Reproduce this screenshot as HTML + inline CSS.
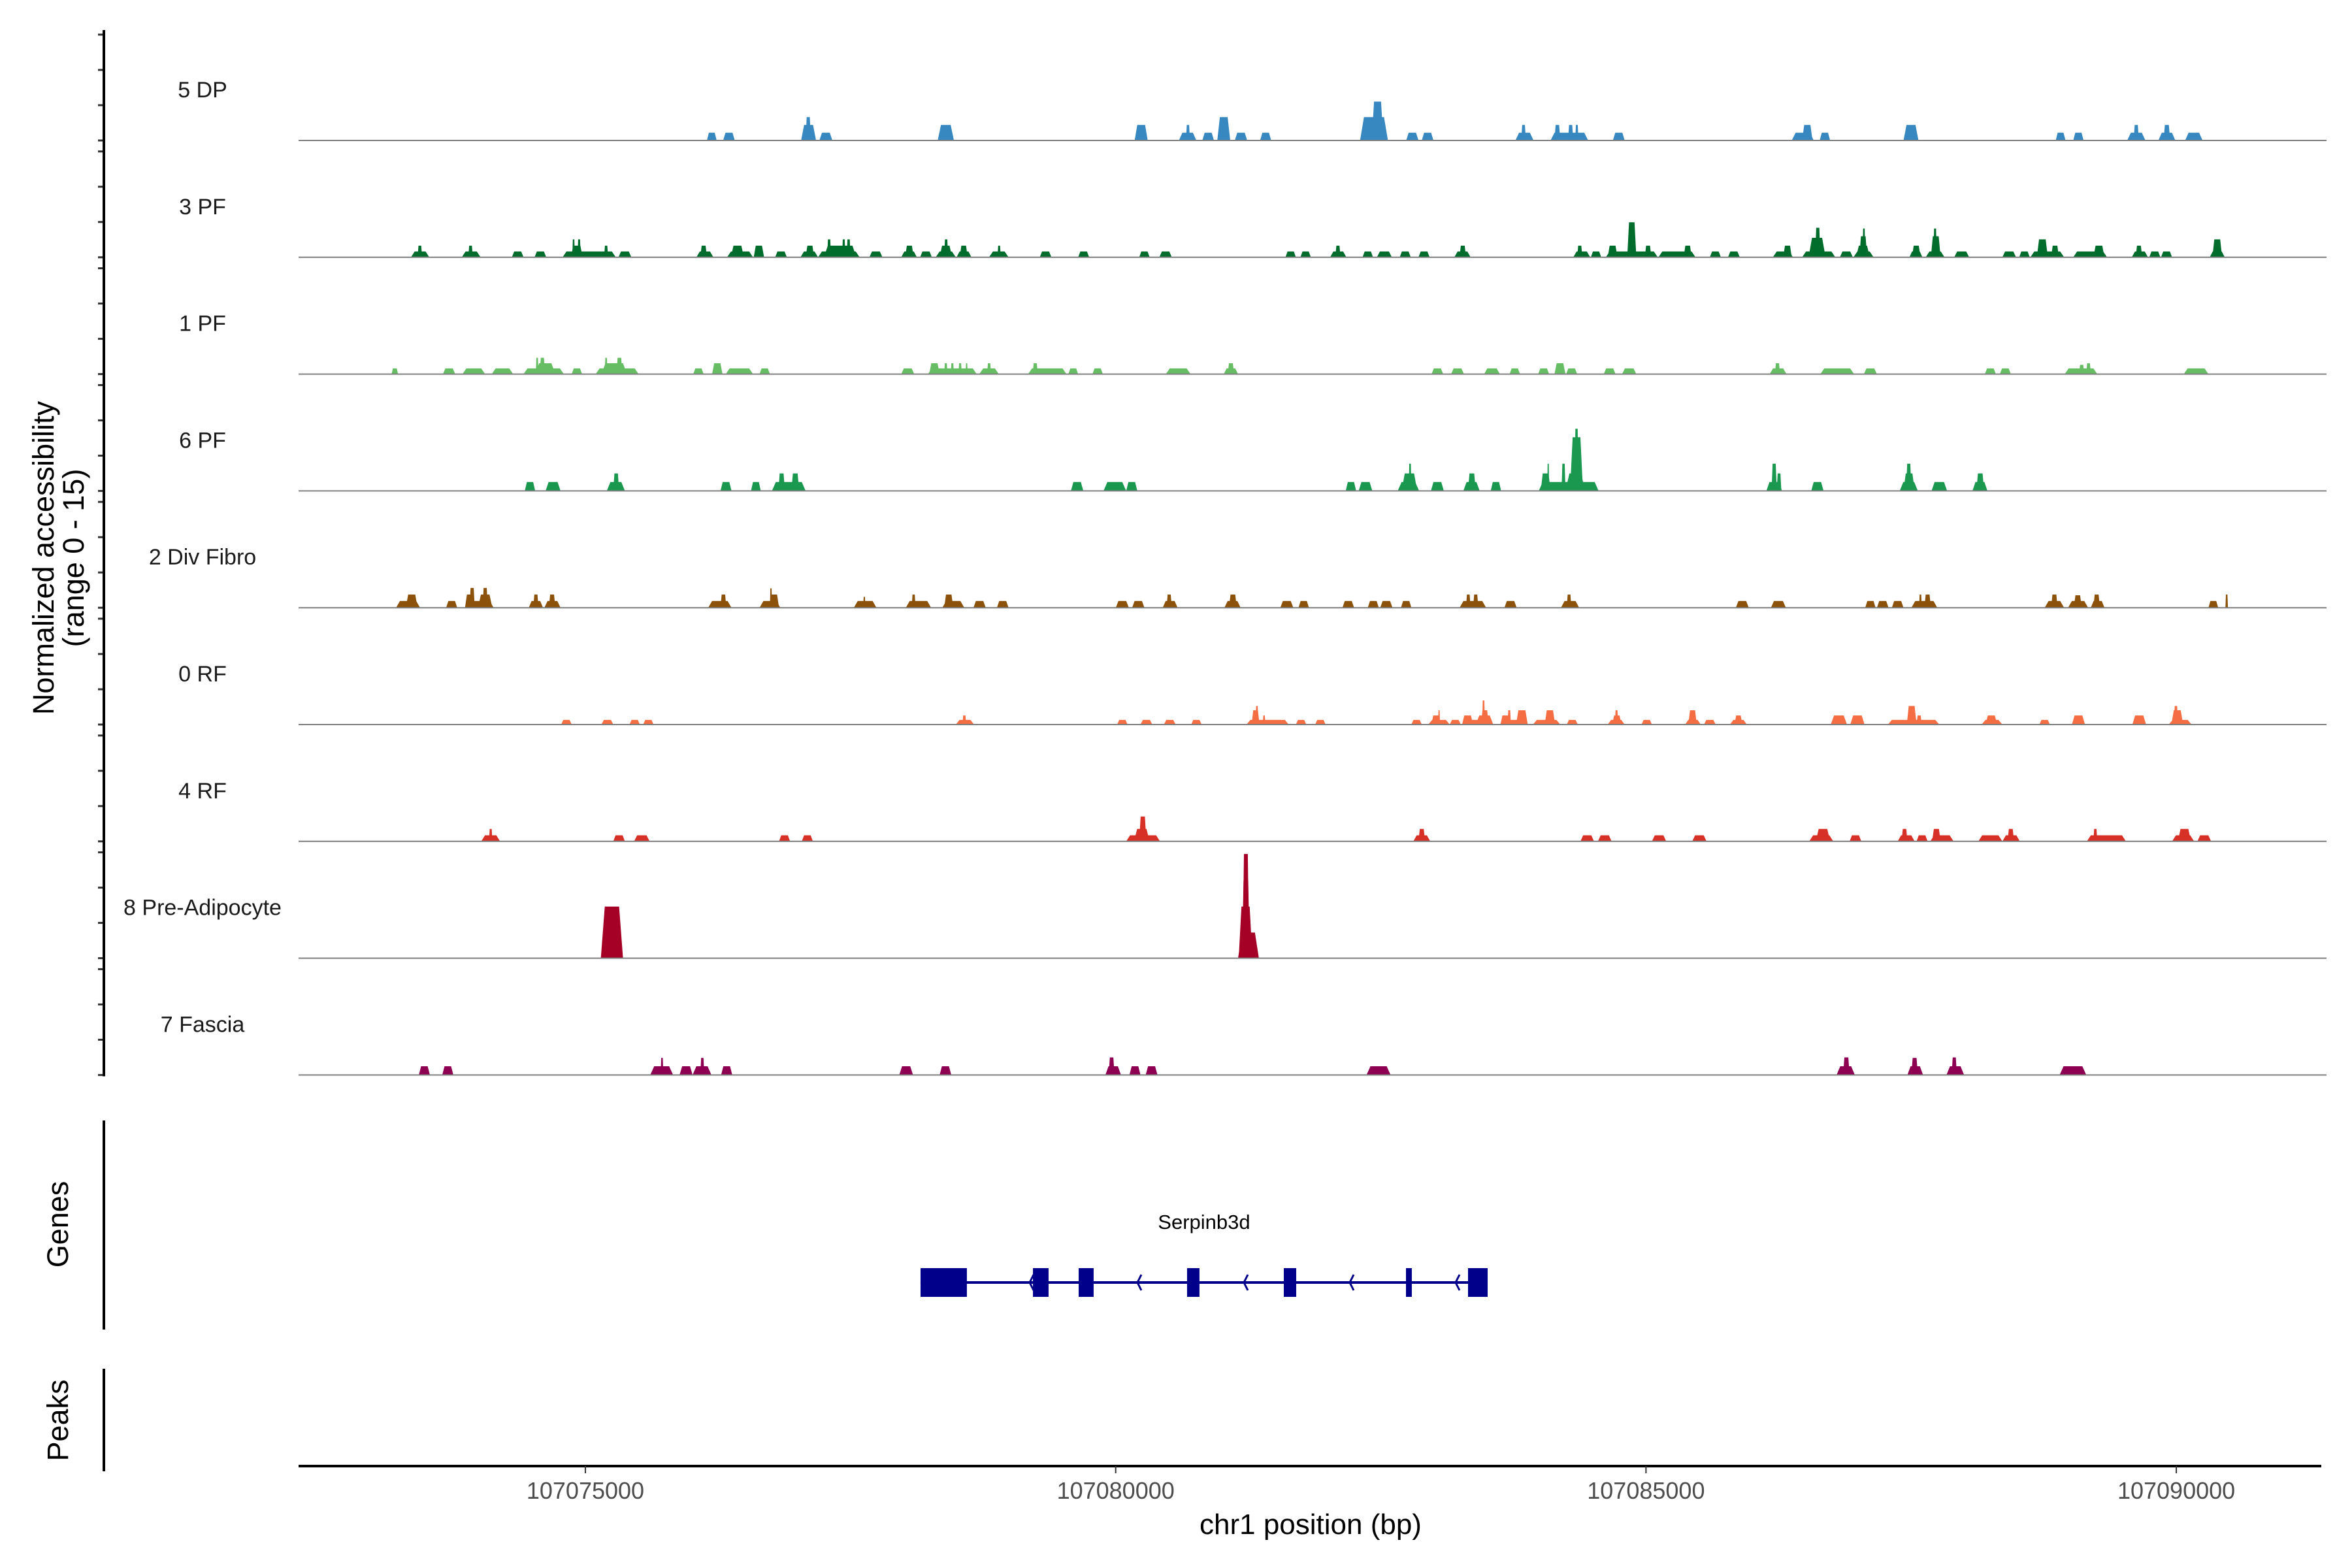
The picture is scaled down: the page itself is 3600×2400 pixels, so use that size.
<!DOCTYPE html>
<html><head><meta charset="utf-8">
<style>
html,body{margin:0;padding:0;background:#fff;}
svg{display:block;font-family:"Liberation Sans",Arial,sans-serif;}
</style></head>
<body>
<svg id="chart" width="3600" height="2400" viewBox="0 0 3600 2400" xmlns="http://www.w3.org/2000/svg">
<rect x="0" y="0" width="3600" height="2400" fill="#fff"/>
<g id="tracks"></g>
<g id="yaxis"></g>
<text transform="translate(82,854) rotate(-90)" text-anchor="middle" font-size="45" fill="#000">Normalized accessibility</text>
<text transform="translate(128,854) rotate(-90)" text-anchor="middle" font-size="45" fill="#000">(range 0 - 15)</text>
<line x1="159" y1="1715" x2="159" y2="2035" stroke="#000" stroke-width="4"/>
<text transform="translate(104,1874) rotate(-90)" text-anchor="middle" font-size="45" fill="#000">Genes</text>
<line x1="159" y1="2095" x2="159" y2="2252" stroke="#000" stroke-width="4"/>
<text transform="translate(104,2174) rotate(-90)" text-anchor="middle" font-size="45" fill="#000">Peaks</text>
<g id="gene"></g>
<g id="xaxis"></g>
<text x="2006" y="2348" text-anchor="middle" font-size="44" fill="#000">chr1 position (bp)</text>
</svg>
<script>
const windowStart = 107072000;
const domainStart = 107072296;
const domainEnd = 107091367;
const xTickValues = [107075000, 107080000, 107085000, 107090000];
const trackNames = ["5 DP","3 PF","1 PF","6 PF","2 Div Fibro","0 RF","4 RF","8 Pre-Adipocyte","7 Fascia"];
const trackColors = ["#3787c0","#006d2c","#66bd63","#1a9850","#8c510a","#f46d43","#d73027","#a50026","#8e0152"];
// peaks: [start offset, end offset, accessibility]
const peaksDP = [[4146,4238,1],[4299,4409,1],[5034,5175,2],[5077,5126,3],[5206,5329,1],[6322,6475,2],[8179,8302,2],[8596,8761,1],[8663,8700,2],[8817,8927,1],[8958,9080,3],[9123,9240,1],[9362,9466,1],[10304,10567,3],[10414,10524,5],[10739,10855,1],[10886,10996,1],[11769,11940,1],[11824,11867,2],[12100,12455,1],[12137,12192,2],[12265,12314,2],[12333,12363,2],[12688,12799,1],[14374,14582,1],[14472,14570,2],[14638,14736,1],[15428,15569,2],[16863,16955,1],[17028,17126,1],[17537,17709,1],[17598,17647,2],[17831,17991,1],[17880,17942,2],[18083,18248,1]];
const peaksPF3 = [[1356,1528,0.75],[1418,1461,1.5],[1835,2012,0.75],[1896,1939,1.5],[2307,2417,0.75],[2521,2631,0.75],[2785,3287,0.75],[2864,2975,1.5],[2877,2901,2.3],[2926,2956,2.3],[3177,3214,1.5],[3312,3434,0.75],[4047,4207,0.75],[4084,4146,1.5],[4336,4581,0.75],[4372,4495,1.5],[4587,4685,1.5],[4789,4900,0.75],[5028,5194,0.75],[5077,5157,1.5],[5194,5586,0.75],[5249,5555,1.5],[5280,5316,2.3],[5421,5451,2.3],[5464,5500,2.3],[5678,5801,0.75],[5978,6126,0.75],[6015,6095,1.5],[6156,6267,0.75],[6303,6493,0.75],[6340,6457,1.5],[6383,6420,2.3],[6500,6640,0.75],[6530,6604,1.5],[6806,6990,0.75],[6886,6916,1.5],[7284,7394,0.75],[7646,7750,0.75],[8222,8320,0.75],[8412,8529,0.75],[9601,9699,0.75],[9742,9840,0.75],[10022,10175,0.75],[10071,10120,1.5],[10328,10426,0.75],[10463,10604,0.75],[10678,10782,0.75],[10855,10960,0.75],[11193,11346,0.75],[11242,11303,1.5],[12314,12474,0.75],[12351,12400,1.5],[12480,12578,0.75],[12621,13111,0.75],[12639,12731,1.5],[12823,12909,4.5],[12989,13050,1.5],[13117,13467,0.75],[13356,13430,1.5],[13602,13706,0.75],[13773,13884,0.75],[14196,14386,0.75],[14294,14374,1.5],[14472,14785,0.75],[14533,14693,2.5],[14595,14644,3.8],[14828,14950,0.75],[14956,15146,0.75],[14981,15110,1.5],[15012,15085,2.7],[15042,15067,3.7],[15484,15606,0.75],[15508,15588,1.5],[15637,15815,0.75],[15686,15778,2.7],[15710,15741,3.7],[15906,16047,0.75],[16360,16489,0.75],[16519,16618,0.75],[16624,16942,0.75],[16685,16789,2.3],[16820,16893,1.5],[17028,17347,0.75],[17218,17323,1.5],[17580,17733,0.75],[17617,17678,1.5],[17745,17850,0.75],[17856,17960,0.75],[18315,18457,0.75],[18340,18432,2.3]];
const peaksPF1 = [[1173,1234,0.73],[1657,1773,0.73],[1841,2055,0.73],[2117,2319,0.73],[2417,2797,0.73],[2527,2717,1.4],[2533,2558,2.1],[2570,2619,2.1],[2871,2969,0.73],[3097,3502,0.73],[3152,3392,1.4],[3183,3208,2.1],[3293,3349,2.1],[4017,4115,0.73],[4195,4293,1.4],[4323,4581,0.73],[4642,4740,0.73],[5978,6101,0.73],[6230,6690,0.73],[6242,6340,1.4],[6383,6414,1.4],[6445,6475,1.4],[6518,6549,1.4],[6585,6604,1.4],[6714,6898,0.73],[6788,6825,1.4],[7174,7536,0.73],[7217,7266,1.4],[7554,7646,0.73],[7781,7879,0.73],[8473,8706,0.73],[9019,9154,0.73],[9056,9117,1.4],[10978,11088,0.73],[11162,11284,0.73],[11474,11622,0.73],[11714,11812,0.73],[11983,12087,0.73],[12137,12241,1.4],[12247,12351,0.73],[12602,12713,0.73],[12774,12909,0.73],[14166,14325,0.73],[14215,14264,1.4],[14644,14962,0.73],[15054,15177,0.73],[16195,16299,0.73],[16336,16440,0.73],[16948,17255,0.73],[17083,17132,1.2],[17151,17194,1.4],[18070,18303,0.73]];
const peaksPF6 = [[2429,2527,1.15],[2625,2766,1.15],[3202,3373,1.15],[3263,3318,2.25],[4274,4378,1.15],[4562,4654,1.15],[4759,5077,1.15],[4820,4881,2.25],[4942,5016,2.25],[7578,7695,1.15],[7885,8099,1.15],[8099,8204,1.15],[10169,10267,1.15],[10291,10420,1.15],[10659,10861,1.15],[10696,10843,2.25],[10763,10788,3.5],[10972,11094,1.15],[11278,11432,1.15],[11321,11395,2.25],[11536,11634,1.15],[11989,12553,1.15],[12008,12100,2.25],[12069,12087,3.5],[12204,12241,3.5],[12241,12425,2.25],[12284,12406,6.9],[12327,12363,8],[14135,14282,1.15],[14184,14233,3.5],[14233,14276,2.25],[14558,14674,1.15],[15392,15563,1.15],[15428,15533,2.25],[15453,15502,3.5],[15692,15839,1.15],[16078,16219,1.15],[16115,16188,2.25]];
const peaksDivFibro = [[1215,1442,0.87],[1307,1418,1.7],[1687,1792,0.87],[1865,2135,0.87],[1865,1957,1.7],[1908,1957,2.55],[1988,2123,1.7],[2031,2080,2.55],[2466,2601,0.87],[2509,2558,1.7],[2613,2766,0.87],[2656,2717,1.7],[4158,4378,0.87],[4274,4329,1.7],[4642,4838,0.87],[4734,4826,1.7],[4740,4760,2.5],[5531,5745,0.87],[5620,5640,1.4],[6021,6260,0.87],[6077,6113,1.7],[6365,6573,0.87],[6383,6469,1.7],[6659,6775,0.87],[6880,6990,0.87],[8001,8124,0.87],[8155,8271,0.87],[8443,8584,0.87],[8480,8529,1.7],[9025,9178,0.87],[9068,9142,1.7],[9552,9675,0.87],[9724,9822,0.87],[10138,10248,0.87],[10377,10481,0.87],[10494,10610,0.87],[10690,10788,0.87],[11242,11493,0.87],[11303,11346,1.7],[11370,11419,1.7],[11665,11781,0.87],[12198,12370,0.87],[12253,12296,1.7],[13847,13969,0.87],[14178,14319,0.87],[15067,15165,0.87],[15177,15287,0.87],[15318,15428,0.87],[15502,15747,0.87],[15575,15600,1.7],[15625,15686,1.7],[16759,16942,0.87],[16820,16881,1.7],[16979,17169,0.87],[17034,17108,1.6],[17194,17323,0.87],[17218,17280,1.7],[18303,18395,0.87],[18463,18487,1.7]];
const peaksRF0 = [[2772,2871,0.6],[3152,3263,0.6],[3416,3514,0.6],[3545,3643,0.6],[6493,6665,0.6],[6555,6591,1.17],[8014,8112,0.6],[8234,8345,0.6],[8455,8565,0.6],[8712,8810,0.6],[9233,9632,0.6],[9282,9356,1.84],[9319,9344,2.4],[9387,9411,1.17],[9699,9797,0.6],[9881,9979,0.6],[10788,10886,0.6],[10947,11150,0.6],[10978,11058,1.17],[11040,11058,1.84],[11150,11254,0.6],[11266,11560,0.6],[11266,11370,1.17],[11395,11560,1.17],[11444,11517,1.84],[11456,11481,3.1],[11628,11885,0.6],[11628,11720,1.17],[11695,11726,1.84],[11775,11885,1.84],[11934,12192,0.6],[12045,12143,1.84],[12253,12357,0.6],[12639,12799,0.6],[12682,12768,1.17],[12707,12737,1.84],[12958,13056,0.6],[13369,13516,0.6],[13399,13479,1.84],[13547,13657,0.6],[13792,13951,0.6],[13835,13908,1.17],[14742,14895,1.17],[14926,15061,1.17],[15281,15765,0.6],[15459,15551,2.4],[15551,15600,1.17],[16164,16360,0.6],[16201,16311,1.17],[16709,16808,0.6],[17016,17139,1.17],[17586,17715,1.17],[17929,18144,0.6],[17954,18064,1.84],[17978,18015,2.4]];
const peaksRF4 = [[2018,2196,0.78],[2092,2123,1.6],[3263,3373,0.78],[3459,3606,0.78],[4826,4930,0.78],[5041,5145,0.78],[8099,8418,0.78],[8173,8320,1.6],[8222,8289,3.2],[10806,10966,0.78],[10855,10917,1.6],[12382,12510,0.78],[12547,12676,0.78],[13056,13191,0.78],[13436,13571,0.78],[14539,14766,0.78],[14601,14736,1.6],[14920,15030,0.78],[15373,15533,0.78],[15410,15465,1.6],[15551,15655,0.78],[15680,15900,0.78],[15698,15778,1.6],[16133,16360,0.78],[16360,16525,0.78],[16409,16470,1.6],[17157,17525,0.78],[17218,17255,1.6],[17960,18168,0.78],[18015,18138,1.6],[18199,18328,0.78]];
const peaksPreAdipocyte = [[3146,3355,6.64],[9154,9350,3.3],[9160,9289,6.64],[9191,9264,10.0],[9197,9258,13.4]];
const peaksFascia = [[1430,1534,1.13],[1651,1755,1.13],[3612,3827,1.13],[3710,3735,2.2],[3888,4011,1.13],[4011,4188,1.13],[4084,4121,2.2],[4280,4385,1.13],[5960,6089,1.13],[6340,6450,1.13],[7903,8050,1.13],[7934,7989,2.26],[8130,8234,1.13],[8283,8394,1.13],[10365,10592,1.13],[14797,14969,1.13],[14858,14920,2.26],[15465,15612,1.13],[15502,15563,2.2],[15833,15999,1.13],[15882,15931,2.26],[16900,17151,1.13]];
const trackPeaks = [peaksDP, peaksPF3, peaksPF1, peaksPF6, peaksDivFibro, peaksRF0, peaksRF4, peaksPreAdipocyte, peaksFascia];
const geneName = "Serpinb3d";
const geneStart = 6160;
const geneEnd = 11507;
const exonStarts = [6160, 7220, 7651, 8673, 9585, 10737, 11322];
const exonEnds = [6597, 7367, 7792, 8790, 9702, 10792, 11507];
const strandArrows = [7189, 8205, 9209, 10207, 11205];

const NS = "http://www.w3.org/2000/svg";
const X0 = 457, X1 = 3553;
function xScale(bp){ return X0 + (bp - domainStart) / (domainEnd - domainStart) * (X1 - X0); }
const firstBase = 215, trackStep = 178.8, unitPx = 11.9;
function yScale(i, v){ return firstBase + i * trackStep - v * unitPx; }
function mk(tag, attrs, parent){ const e = document.createElementNS(NS, tag); for (const k in attrs) e.setAttribute(k, attrs[k]); parent.appendChild(e); return e; }

const tracksG = document.getElementById('tracks');
const yG = document.getElementById('yaxis');
trackNames.forEach((name, i) => {
  const g = mk('g', {}, tracksG);
  
  
  const base = yScale(i, 0);
  trackPeaks[i].forEach(p => {
    const xa = xScale(windowStart + p[0]), xb = xScale(windowStart + p[1]);
    const w = xb - xa;
    const inset = Math.min(w * 0.2, 6);
    const yt = yScale(i, p[2]);
    const poly = mk('polygon', {points: `${xa},${base} ${xa+inset},${yt} ${xb-inset},${yt} ${xb},${base}`, fill: trackColors[i]}, g);
    
    
  });
  const bl = mk('line', {x1: X0, x2: X1 + 8, y1: base, y2: base, stroke: '#7f7f7f', 'stroke-width': 2}, g);
  
  
  const lab = mk('text', {x: 310, y: base - 66, 'text-anchor': 'middle', 'font-size': 34, fill: '#1a1a1a'}, g);
  lab.textContent = name;
  
  
  [0, 54, 108, 162].forEach(o => {
    const t = mk('line', {x1: 150, x2: 159, y1: base - o, y2: base - o, stroke: '#333', 'stroke-width': 3}, yG);
    
    
  });
});
const yl = mk('line', {x1: 159, x2: 159, y1: 46, y2: yScale(8, 0) + 2, stroke: '#000', 'stroke-width': 4}, yG);



// gene
const geneG = document.getElementById('gene');
const gc = '#00008b', gy = 1963;
const gl = mk('line', {x1: xScale(windowStart + geneStart), x2: xScale(windowStart + geneEnd), y1: gy, y2: gy, stroke: gc, 'stroke-width': 4}, geneG);


exonStarts.forEach((s, k) => {
  const xa = xScale(windowStart + s), xb = xScale(windowStart + exonEnds[k]);
  const r = mk('rect', {x: xa, y: 1941, width: xb - xa, height: 44, fill: gc}, geneG);
  
  
});
strandArrows.forEach(a => {
  const x = xScale(windowStart + a);
  const pl = mk('polyline', {points: `${x+6},${gy-12} ${x},${gy} ${x+6},${gy+12}`, fill: 'none', stroke: gc, 'stroke-width': 3}, geneG);
  
  
});
const gt = mk('text', {x: (xScale(windowStart + geneStart) + xScale(windowStart + geneEnd)) / 2, y: 1881, 'text-anchor': 'middle', 'font-size': 31, fill: '#000'}, geneG);
gt.textContent = geneName;



// x axis
const xG = document.getElementById('xaxis');
const xl = mk('line', {x1: X0, x2: X1, y1: 2244, y2: 2244, stroke: '#000', 'stroke-width': 4}, xG);


xTickValues.forEach(v => {
  const x = xScale(v);
  const t = mk('line', {x1: x, x2: x, y1: 2244, y2: 2255, stroke: '#333', 'stroke-width': 2}, xG);
  
  
  const tx = mk('text', {x: x, y: 2294, 'text-anchor': 'middle', 'font-size': 36, fill: '#4d4d4d'}, xG);
  tx.textContent = String(v);
  
  
});
</script>
</body></html>
